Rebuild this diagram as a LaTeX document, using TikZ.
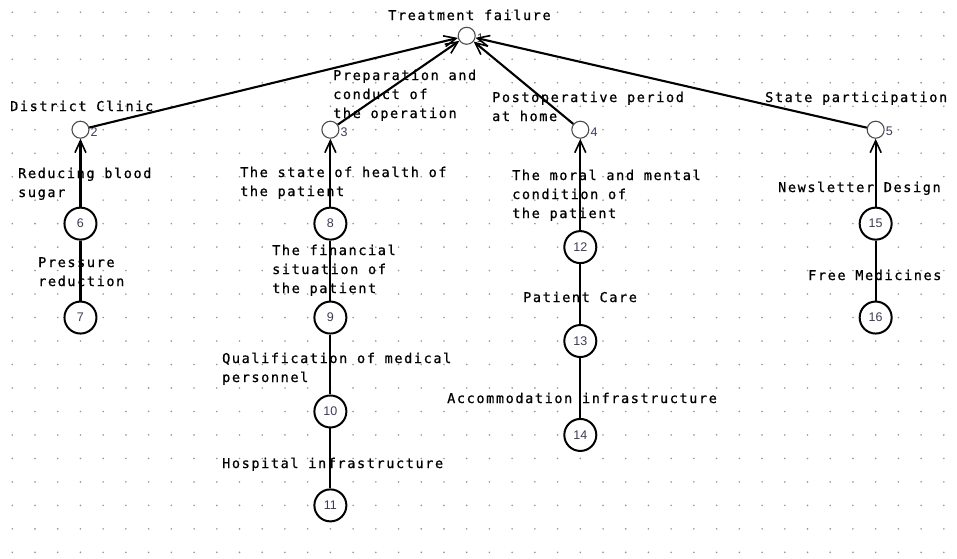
\documentclass[tikz,border=0pt]{standalone}
\usepackage{fontspec}
\newfontfamily\labfont[LetterSpace=12, FakeBold=0.8]{DejaVu Sans Mono}
\newfontfamily\numfont{Liberation Sans}
\usetikzlibrary{arrows.meta}
\definecolor{numcol}{RGB}{60,60,90}
\definecolor{dotcol}{RGB}{150,150,150}
\tikzset{
  small/.style={circle, draw=black!70, line width=1.1pt, fill=white, minimum size=17pt, inner sep=0pt},
  big/.style={circle, draw=black, line width=2pt, fill=white, minimum size=32pt, inner sep=0pt, font=\numfont\fontsize{12.5}{13}\selectfont, text=numcol},
  numlab/.style={font=\numfont\fontsize{12.5}{13}\selectfont, text=numcol, inner sep=1pt, yshift=-2pt},
  lab/.style={anchor=base west, inner sep=0pt, align=left, font=\labfont\fontsize{13.5}{19}\selectfont},
  arr/.style={line width=2.1pt, -{Straight Barb[length=12pt,width=11pt,line width=1.6pt]}},
  plain/.style={line width=2.1pt}
}
\begin{document}
\begin{tikzpicture}[x=1pt,y=-1pt]
\useasboundingbox (0,0) rectangle (957,558);
\fill[white] (0,0) rectangle (957,558);
\foreach \i in {0,...,41}{
  \foreach \j in {0,...,23}{
    \fill[dotcol] ({12.3+\i*22.72},{12.3+\j*23.48}) circle (0.9);
  }
}
% texts (base anchor = baseline of the last line)
\node[lab] (t1) at (388,20) {Treatment failure};
\node[lab] (t2) at (10,111) {District Clinic};
\node[lab] (t3) at (333,118) {Preparation and\\conduct of\\the operation};
\node[lab] (t4) at (492,121) {Postoperative period\\at home};
\node[lab] (t5) at (765,102) {State participation};
\node[lab] (t6) at (18,197) {Reducing blood\\sugar};
\node[lab] (t7) at (38,286) {Pressure\\reduction};
\node[lab] (t8) at (240,196) {The state of health of\\the patient};
\node[lab] (t9) at (272,293) {The financial\\situation of\\the patient};
\node[lab] (t10) at (222,382) {Qualification of medical\\personnel};
\node[lab] (t11) at (222,468) {Hospital infrastructure};
\node[lab] (t12) at (512,218) {The moral and mental\\condition of\\the patient};
\node[lab] (t13) at (523,302) {Patient Care};
\node[lab] (t14) at (447,403) {Accommodation infrastructure};
\node[lab] (t15) at (778,192) {Newsletter Design};
\node[lab] (t16) at (808,280) {Free Medicines};
% nodes
\node[small, label={[numlab]east:1}] (n1) at (466.7,35.78) {};
\node[small, label={[numlab]east:2}] (n2) at (80.46,129.7) {};
\node[small, label={[numlab]east:3}] (n3) at (330.38,129.7) {};
\node[small, label={[numlab]east:4}] (n4) at (580.3,129.7) {};
\node[small, label={[numlab]east:5}] (n5) at (875.66,129.7) {};
\node[big] (n6) at (80.46,223.62) {6};
\node[big] (n7) at (80.46,317.54) {7};
\node[big] (n8) at (330.38,223.62) {8};
\node[big] (n9) at (330.38,317.54) {9};
\node[big] (n10) at (330.38,411.46) {10};
\node[big] (n11) at (330.38,505.38) {11};
\node[big] (n12) at (580.3,247.1) {12};
\node[big] (n13) at (580.3,341.02) {13};
\node[big] (n14) at (580.3,434.94) {14};
\node[big] (n15) at (875.66,223.62) {15};
\node[big] (n16) at (875.66,317.54) {16};
% connectors
\draw[arr] (n2) -- (n1);
\draw[arr] (n3) -- (n1);
\draw[arr] (n4) -- (n1);
\draw[arr] (n5) -- (n1);
\draw[arr] (n6) -- (n2);
\draw[arr] (n8) -- (n3);
\draw[arr] (n12) -- (n4);
\draw[arr] (n15) -- (n5);
\draw[plain] (n7) -- (n6);
\draw[plain] (n9) -- (n8);
\draw[plain] (n10) -- (n9);
\draw[plain] (n11) -- (n10);
\draw[plain] (n13) -- (n12);
\draw[plain] (n14) -- (n13);
\draw[plain] (n16) -- (n15);
\end{tikzpicture}
\end{document}
